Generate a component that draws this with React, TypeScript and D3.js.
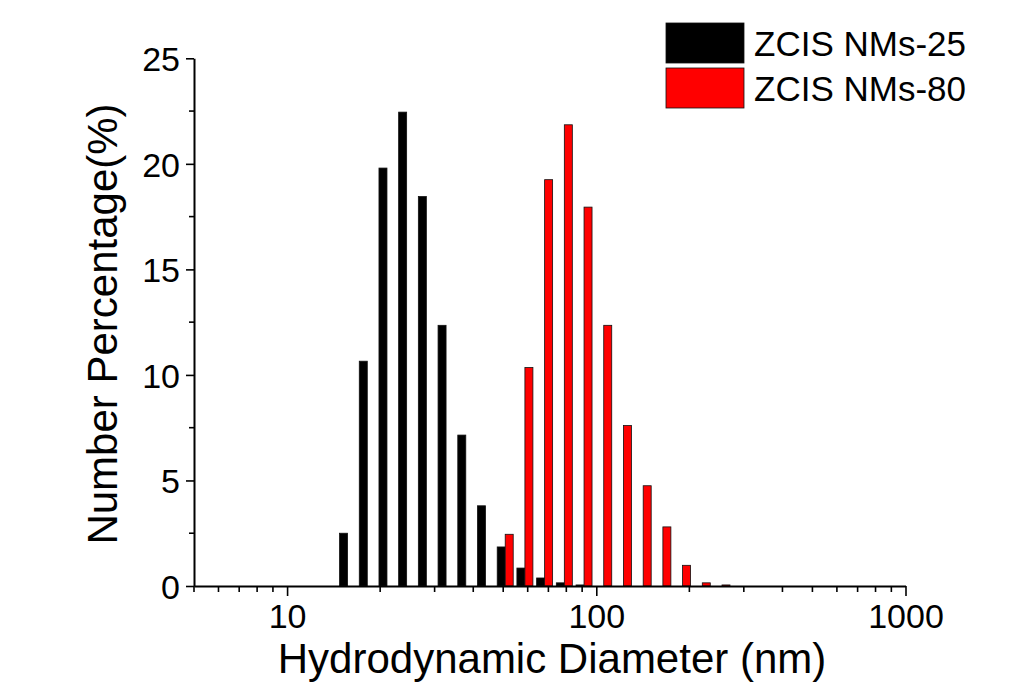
import React, { useEffect, useRef } from "react";
import * as d3 from "d3";

// DLS size bins (nm) and number percentages
const sizeBins = [15.69, 18.17, 21.04, 24.36, 28.21, 32.67, 37.84, 43.82, 50.75, 58.77, 68.06, 78.82, 91.28, 105.7, 122.4, 141.8, 164.2, 190.1, 220.2, 255.0];
const nms25 = [2.5, 10.65, 19.8, 22.45, 18.45, 12.35, 7.15, 3.8, 1.85, 0.85, 0.38, 0.15, 0.05, 0, 0, 0, 0, 0, 0, 0];
const nms80 = [0, 0, 0, 0, 0, 0, 0, 0, 2.45, 10.35, 19.25, 21.85, 17.95, 12.35, 7.6, 4.75, 2.8, 0.98, 0.15, 0.05];
const seriesNames = ["ZCIS NMs-25", "ZCIS NMs-80"];
const seriesColors = ["#000000", "#ff0000"];
const yTicks = [0, 5, 10, 15, 20, 25];
const xTicks = [10, 100, 1000];

function App() {
  const svgRef = useRef(null);
  const svgWidth = 1034;
  const svgHeight = 682;

  useEffect(() => {
    const svg = d3.select(svgRef.current);
    svg.selectAll("*").remove();
    const font = "'Liberation Sans', Arial, sans-serif";

    const left = 194;
    const right = 905.5;
    const top = 58.3;
    const bottom = 586;

    const x = d3.scaleLog().domain([5, 1000]).range([left, right]);
    const y = d3.scaleLinear().domain([0, 25]).range([bottom, top]);
    const barW = 8;

    const series = [nms25, nms80];
    series.forEach((vals, si) => {
      const data = sizeBins.map((b, i) => ({ b, v: vals[i] })).filter((d) => d.v > 0);
      svg
        .append("g")
        .selectAll("rect")
        .data(data)
        .enter()
        .append("rect")
        .attr("x", (d) => x(d.b) - barW + si * barW)
        .attr("y", (d) => y(d.v))
        .attr("width", barW)
        .attr("height", (d) => bottom - y(d.v))
        .attr("fill", seriesColors[si])
        .attr("stroke", "#111")
        .attr("stroke-width", 0.8);
    });

    // y axis
    const yAxis = svg.append("g").attr("transform", `translate(${left},0)`);
    yAxis
      .call(d3.axisLeft(y).tickValues(yTicks).tickSize(8).tickSizeOuter(0).tickPadding(6))
      .call((g) => g.select(".domain").attr("stroke-width", 2))
      .call((g) => g.selectAll(".tick line").attr("stroke-width", 1.6))
      .call((g) =>
        g.selectAll(".tick text").attr("font-size", 34).attr("font-family", font).attr("fill", "#000").attr("dy", "0.36em")
      );
    yAxis
      .selectAll(".minor")
      .data(d3.range(2.5, 25, 5))
      .enter()
      .append("line")
      .attr("x1", 0)
      .attr("x2", -5)
      .attr("y1", (d) => y(d))
      .attr("y2", (d) => y(d))
      .attr("stroke", "#000")
      .attr("stroke-width", 1.6);

    // x axis
    const xAxis = svg.append("g").attr("transform", `translate(0,${bottom})`);
    xAxis
      .call(d3.axisBottom(x).tickValues(xTicks).tickFormat(d3.format("d")).tickSize(10).tickSizeOuter(0).tickPadding(8))
      .call((g) => g.select(".domain").attr("stroke-width", 2))
      .call((g) => g.selectAll(".tick line").attr("stroke-width", 1.6))
      .call((g) =>
        g.selectAll(".tick text").attr("font-size", 34).attr("font-family", font).attr("fill", "#000")
      );
    const minorX = [5, 6, 7, 8, 9, 20, 30, 40, 50, 60, 70, 80, 90, 200, 300, 400, 500, 600, 700, 800, 900];
    xAxis
      .selectAll(".minor")
      .data(minorX)
      .enter()
      .append("line")
      .attr("x1", (d) => x(d))
      .attr("x2", (d) => x(d))
      .attr("y1", 0)
      .attr("y2", 6)
      .attr("stroke", "#000")
      .attr("stroke-width", 1.6);

    // axis titles
    svg
      .append("text")
      .attr("x", 552)
      .attr("y", 673)
      .attr("text-anchor", "middle")
      .attr("font-family", font)
      .attr("font-size", 42)
      .text("Hydrodynamic Diameter (nm)");

    svg
      .append("text")
      .attr("transform", "translate(117,324) rotate(-90)")
      .attr("text-anchor", "middle")
      .attr("font-family", font)
      .attr("font-size", 42)
      .text("Number Percentage(%)");

    // legend
    const legend = svg.append("g");
    seriesNames.forEach((name, i) => {
      legend
        .append("rect")
        .attr("x", 666)
        .attr("y", 23 + i * 45)
        .attr("width", 78)
        .attr("height", 40)
        .attr("fill", seriesColors[i])
        .attr("stroke", "#111")
        .attr("stroke-width", 0.8);
      legend
        .append("text")
        .attr("x", 754)
        .attr("y", 56 + i * 45)
        .attr("font-family", font)
        .attr("font-size", 35)
        .text(name);
    });
  }, []);

  return (
    <div style={{ position: "absolute", left: 0, top: 0 }}>
      <svg ref={svgRef} width={svgWidth} height={svgHeight} style={{ display: "block", background: "#fff" }}></svg>
    </div>
  );
}

export default App;
